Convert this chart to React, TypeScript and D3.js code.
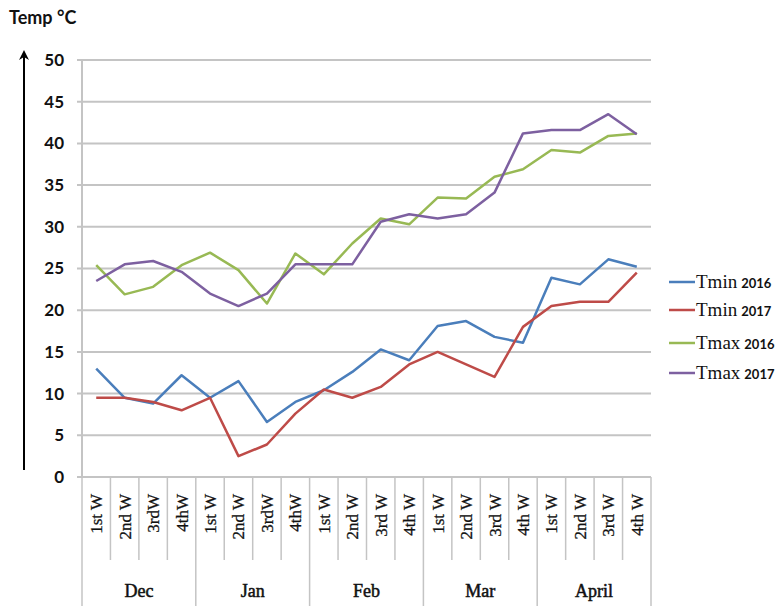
import React from "react";
import * as d3 from "d3";

const months = ["Dec", "Jan", "Feb", "Mar", "April"];
const weekLabels = [
  "1st W", "2nd W", "3rdW", "4thW",
  "1st W", "2nd W", "3rdW", "4thW",
  "1st W", "2nd W", "3rd W", "4th W",
  "1st W", "2nd W", "3rd W", "4th W",
  "1st W", "2nd W", "3rd W", "4th W",
];
const yTicks = [0, 5, 10, 15, 20, 25, 30, 35, 40, 45, 50];

const tmin2016 = [13, 9.5, 8.8, 12.2, 9.5, 11.5, 6.6, 9, 10.4, 12.6, 15.3, 14, 18.1, 18.7, 16.8, 16.1, 23.9, 23.1, 26.1, 25.2];
const tmin2017 = [9.5, 9.5, 9, 8, 9.5, 2.5, 3.9, 7.6, 10.5, 9.5, 10.8, 13.5, 15, 13.5, 12, 18, 20.5, 21, 21, 24.5];
const tmax2016 = [25.4, 21.9, 22.8, 25.4, 26.9, 24.8, 20.8, 26.8, 24.3, 28, 31, 30.3, 33.5, 33.4, 36, 36.9, 39.2, 38.9, 40.9, 41.2];
const tmax2017 = [23.5, 25.5, 25.9, 24.6, 22, 20.5, 22, 25.5, 25.5, 25.5, 30.6, 31.5, 31, 31.5, 34.1, 41.2, 41.6, 41.6, 43.5, 41.1];

const series = [
  { name: "Tmin", year: "2016", values: tmin2016, color: "#4a7ebb" },
  { name: "Tmin", year: "2017", values: tmin2017, color: "#be4b48" },
  { name: "Tmax", year: "2016", values: tmax2016, color: "#98b954" },
  { name: "Tmax", year: "2017", values: tmax2017, color: "#7d60a0" },
];

const left = 82;
const right = 651;
const top = 60;
const bottom = 477;

export default function App() {
  const x = d3.scaleBand<number>().domain(d3.range(weekLabels.length)).range([left, right]);
  const y = d3.scaleLinear().domain([0, 50]).range([bottom, top]);
  const step = x.step();
  const cx = (i: number) => (x(i) as number) + step / 2;
  const line = d3.line<number>().x((_, i) => cx(i)).y((d) => y(d));

  const sans = "Lato, 'Liberation Sans', sans-serif";
  const serif = "'Liberation Serif', 'DejaVu Serif', serif";

  return (
    <svg width={779} height={609} style={{ position: "absolute", left: 0, top: 0, background: "#fff" }}>
      <defs>
        <marker id="arr" viewBox="0 0 10 10" refX="8" refY="5" markerWidth="5" markerHeight="5" orient="auto">
          <path d="M0,0 L10,5 L0,10 L3,5 z" fill="#000" />
        </marker>
      </defs>

      {/* title and arrow */}
      <text x={9} y={24} fontFamily={sans} fontWeight="bold" fontSize={18} fill="#111">
        Temp °C
      </text>
      <line x1={24} y1={470} x2={24} y2={52} stroke="#000" strokeWidth={2} markerEnd="url(#arr)" />

      {/* gridlines and y labels */}
      {yTicks.map((t) => (
        <g key={t}>
          <line x1={77} x2={right} y1={y(t)} y2={y(t)} stroke="#c4c4c4" strokeWidth={2} />
          <text x={64} y={y(t)} dy="0.35em" textAnchor="end" fontFamily={sans} fontWeight="bold" fontSize={17} fill="#111">
            {t}
          </text>
        </g>
      ))}
      <line x1={left} x2={left} y1={top} y2={bottom} stroke="#c4c4c4" strokeWidth={2} />

      {/* category separators */}
      {d3.range(weekLabels.length + 1).map((k) => {
        const xx = left + k * step;
        const isMonth = k % 4 === 0;
        return (
          <line key={k} x1={xx} x2={xx} y1={bottom} y2={isMonth ? 606 : 560} stroke="#c4c4c4" strokeWidth={1.5} />
        );
      })}

      {/* week labels */}
      {weekLabels.map((w, i) => (
        <text
          key={i}
          transform={`translate(${cx(i) + 6},494) rotate(-90)`}
          textAnchor="end"
          fontFamily={serif}
          fontSize={17}
          fill="#111"
          stroke="#111"
          strokeWidth={0.3}
        >
          {w}
        </text>
      ))}

      {/* month labels */}
      {months.map((m, j) => (
        <text
          key={m}
          x={left + (j * 4 + 2) * step}
          y={597}
          textAnchor="middle"
          fontFamily={serif}
          fontSize={18}
          fill="#111"
          stroke="#111"
          strokeWidth={0.5}
        >
          {m}
        </text>
      ))}

      {/* lines */}
      {series.map((s) => (
        <path key={s.name + s.year} d={line(s.values) || ""} fill="none" stroke={s.color} strokeWidth={2.5} strokeLinejoin="round" />
      ))}

      {/* legend */}
      {series.map((s, i) => {
        const ly = [282, 310, 343, 373][i];
        return (
          <g key={i}>
            <line x1={669} x2={695} y1={ly} y2={ly} stroke={s.color} strokeWidth={2.5} />
            <text x={696} y={ly + 6} fontFamily={serif} fontSize={19} fill="#111">
              {s.name}
              <tspan dx={4} fontFamily={sans} fontWeight="bold" fontSize={13}>
                {s.year}
              </tspan>
            </text>
          </g>
        );
      })}
    </svg>
  );
}
